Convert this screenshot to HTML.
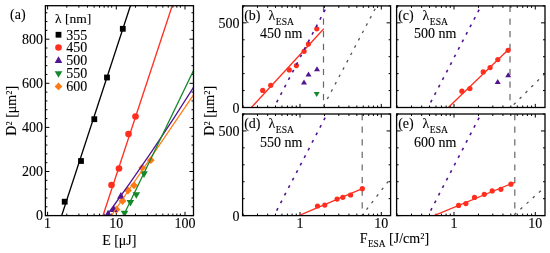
<!DOCTYPE html>
<html><head><meta charset="utf-8"><style>
html,body{margin:0;padding:0;background:#fff;}
svg{display:block;will-change:transform;}
</style></head><body>
<svg width="550" height="253" viewBox="0 0 550 253">
<rect width="550" height="253" fill="#fff"/>
<path d="M47.60 215.6v-3.8M47.60 5.7v3.8M66.78 215.6v-2.0M66.78 5.7v2.0M78.88 215.6v-2.0M78.88 5.7v2.0M87.46 215.6v-2.0M87.46 5.7v2.0M94.12 215.6v-2.0M94.12 5.7v2.0M99.56 215.6v-2.0M99.56 5.7v2.0M104.16 215.6v-2.0M104.16 5.7v2.0M108.14 215.6v-2.0M108.14 5.7v2.0M111.66 215.6v-2.0M111.66 5.7v2.0M116.30 215.6v-3.8M116.30 5.7v3.8M135.48 215.6v-2.0M135.48 5.7v2.0M147.58 215.6v-2.0M147.58 5.7v2.0M156.16 215.6v-2.0M156.16 5.7v2.0M162.82 215.6v-2.0M162.82 5.7v2.0M168.26 215.6v-2.0M168.26 5.7v2.0M172.86 215.6v-2.0M172.86 5.7v2.0M176.84 215.6v-2.0M176.84 5.7v2.0M180.36 215.6v-2.0M180.36 5.7v2.0M185.00 215.6v-3.8M185.00 5.7v3.8M45.4 215.60h4.0M193.5 215.60h-4.0M45.4 206.78h2.0M193.5 206.78h-2.0M45.4 197.96h2.0M193.5 197.96h-2.0M45.4 189.14h2.0M193.5 189.14h-2.0M45.4 180.32h2.0M193.5 180.32h-2.0M45.4 171.50h4.0M193.5 171.50h-4.0M45.4 162.68h2.0M193.5 162.68h-2.0M45.4 153.86h2.0M193.5 153.86h-2.0M45.4 145.04h2.0M193.5 145.04h-2.0M45.4 136.22h2.0M193.5 136.22h-2.0M45.4 127.40h4.0M193.5 127.40h-4.0M45.4 118.58h2.0M193.5 118.58h-2.0M45.4 109.76h2.0M193.5 109.76h-2.0M45.4 100.94h2.0M193.5 100.94h-2.0M45.4 92.12h2.0M193.5 92.12h-2.0M45.4 83.30h4.0M193.5 83.30h-4.0M45.4 74.48h2.0M193.5 74.48h-2.0M45.4 65.66h2.0M193.5 65.66h-2.0M45.4 56.84h2.0M193.5 56.84h-2.0M45.4 48.02h2.0M193.5 48.02h-2.0M45.4 39.20h4.0M193.5 39.20h-4.0M45.4 30.38h2.0M193.5 30.38h-2.0M45.4 21.56h2.0M193.5 21.56h-2.0M45.4 12.74h2.0M193.5 12.74h-2.0" stroke="#000" stroke-width="1" fill="none"/>
<clipPath id="ca"><rect x="45.4" y="5.7" width="148.1" height="209.9"/></clipPath>
<g clip-path="url(#ca)">
<rect x="61.80" y="198.80" width="5.8" height="5.8" fill="#000"/>
<rect x="78.10" y="158.10" width="5.8" height="5.8" fill="#000"/>
<rect x="91.40" y="116.30" width="5.8" height="5.8" fill="#000"/>
<rect x="104.10" y="74.60" width="5.8" height="5.8" fill="#000"/>
<rect x="119.90" y="25.90" width="5.8" height="5.8" fill="#000"/>
<circle cx="111.5" cy="185" r="3.3" fill="#ff2e1e"/>
<circle cx="119" cy="168.5" r="3.3" fill="#ff2e1e"/>
<circle cx="128.5" cy="134" r="3.3" fill="#ff2e1e"/>
<circle cx="135.5" cy="116.5" r="3.3" fill="#ff2e1e"/>
<path d="M116.50 205.60L120.40 209.50L116.50 213.40L112.60 209.50Z" fill="#ff7a14"/>
<path d="M122.50 197.10L126.40 201.00L122.50 204.90L118.60 201.00Z" fill="#ff7a14"/>
<path d="M128.00 186.60L131.90 190.50L128.00 194.40L124.10 190.50Z" fill="#ff7a14"/>
<path d="M134.00 181.40L137.90 185.30L134.00 189.20L130.10 185.30Z" fill="#ff7a14"/>
<path d="M142.30 163.90L146.20 167.80L142.30 171.70L138.40 167.80Z" fill="#ff7a14"/>
<path d="M150.80 156.30L154.70 160.20L150.80 164.10L146.90 160.20Z" fill="#ff7a14"/>
<path d="M124.50 217.36L128.30 210.76L120.70 210.76Z" fill="#15882a"/>
<path d="M130.40 206.56L134.20 199.96L126.60 199.96Z" fill="#15882a"/>
<path d="M136.30 198.86L140.10 192.26L132.50 192.26Z" fill="#15882a"/>
<path d="M144.00 177.96L147.80 171.36L140.20 171.36Z" fill="#15882a"/>
<path d="M108.10 209.84L111.90 216.44L104.30 216.44Z" fill="#52148f"/>
<path d="M113.80 205.34L117.60 211.94L110.00 211.94Z" fill="#52148f"/>
<path d="M120.90 192.04L124.70 198.64L117.10 198.64Z" fill="#52148f"/>
</g>
<g clip-path="url(#ca)" fill="none" stroke-width="1.3">
<line x1="61.7" y1="215.5" x2="130.5" y2="5.5" stroke="#000"/>
<line x1="103" y1="215.5" x2="172.3" y2="5.5" stroke="#ff2e1e"/>
<path d="M106.7 215.5Q153.3 151.6 193.5 87.3" stroke="#52148f"/>
<line x1="111.5" y1="215.5" x2="193.5" y2="94.8" stroke="#ff7a14"/>
<line x1="123.5" y1="215.5" x2="193.5" y2="70.6" stroke="#15882a"/>
</g>
<rect x="45.4" y="5.7" width="148.10" height="209.90" fill="none" stroke="#000" stroke-width="1.3"/>
<rect x="55.60" y="31.85" width="5.8" height="5.8" fill="#000"/>
<circle cx="58.5" cy="47.5" r="3.3" fill="#ff2e1e"/>
<path d="M58.50 56.34L62.30 62.94L54.70 62.94Z" fill="#52148f"/>
<path d="M58.50 77.76L62.30 71.16L54.70 71.16Z" fill="#15882a"/>
<path d="M58.50 82.50L62.40 86.40L58.50 90.30L54.60 86.40Z" fill="#ff7a14"/>
<g font-family="Liberation Serif, serif" stroke="#000" stroke-width="0.1" font-size="14" fill="#000">
<text x="55" y="22.6" font-size="13.5">λ [nm]</text>
<text x="66.3" y="39.60">355</text>
<text x="66.3" y="52.45">450</text>
<text x="66.3" y="65.30">500</text>
<text x="66.3" y="78.15">550</text>
<text x="66.3" y="91.00">600</text>
</g>
<g font-family="Liberation Serif, serif" stroke="#000" stroke-width="0.1" font-size="14" fill="#000" text-anchor="end">
<text x="43.0" y="220.4">0</text>
<text x="43.0" y="176.3">200</text>
<text x="43.0" y="132.2">400</text>
<text x="43.0" y="88.1">600</text>
<text x="43.0" y="44.0">800</text>
</g>
<g font-family="Liberation Serif, serif" stroke="#000" stroke-width="0.1" font-size="14" fill="#000" text-anchor="middle">
<text x="47.6" y="228.2">1</text>
<text x="116.3" y="228.2">10</text>
<text x="185.0" y="228.2">100</text>
<text x="119.3" y="244.6">E [μJ]</text>
</g>
<text font-family="Liberation Serif, serif" stroke="#000" stroke-width="0.1" font-size="14" x="10" y="18.7">(a)</text>
<text font-family="Liberation Serif, serif" stroke="#000" stroke-width="0.1" font-size="14" transform="translate(16.2,110.8) rotate(-90)" text-anchor="middle">D<tspan stroke-width="0">²</tspan> [μm<tspan stroke-width="0">²</tspan>]</text>
<text font-family="Liberation Serif, serif" stroke="#000" stroke-width="0.1" font-size="14" transform="translate(213.5,110.8) rotate(-90)" text-anchor="middle">D<tspan stroke-width="0">²</tspan> [μm<tspan stroke-width="0">²</tspan>]</text>
<path d="M243.17 107.5v-2.0M243.17 5.9v2.0M257.49 107.5v-2.0M257.49 5.9v2.0M267.65 107.5v-2.0M267.65 5.9v2.0M275.53 107.5v-2.0M275.53 5.9v2.0M281.96 107.5v-2.0M281.96 5.9v2.0M287.41 107.5v-2.0M287.41 5.9v2.0M292.12 107.5v-2.0M292.12 5.9v2.0M296.28 107.5v-2.0M296.28 5.9v2.0M300.00 107.5v-3.6M300.00 5.9v3.6M324.47 107.5v-2.0M324.47 5.9v2.0M338.79 107.5v-2.0M338.79 5.9v2.0M348.95 107.5v-2.0M348.95 5.9v2.0M356.83 107.5v-2.0M356.83 5.9v2.0M363.26 107.5v-2.0M363.26 5.9v2.0M368.71 107.5v-2.0M368.71 5.9v2.0M373.42 107.5v-2.0M373.42 5.9v2.0M377.58 107.5v-2.0M377.58 5.9v2.0M381.30 107.5v-3.6M381.30 5.9v3.6M242.6 107.50h4.0M390.6 107.50h-4.0M242.6 90.57h2.0M390.6 90.57h-2.0M242.6 73.63h2.0M390.6 73.63h-2.0M242.6 56.70h2.0M390.6 56.70h-2.0M242.6 39.77h2.0M390.6 39.77h-2.0M242.6 22.83h4.0M390.6 22.83h-4.0M242.6 5.90h2.0M390.6 5.90h-2.0" stroke="#000" stroke-width="1" fill="none"/>
<clipPath id="cb"><rect x="242.6" y="5.9" width="148.00" height="101.60"/></clipPath>
<g font-family="Liberation Serif, serif" stroke="#000" stroke-width="0.1" fill="#000">
<text font-size="14" x="244.2" y="19.5">(b)</text>
<text font-size="14" x="268.4" y="20.3">λ<tspan font-size="9.6" dx="0.6" dy="4.3">ESA</tspan></text>
<text font-size="14" x="260.0" y="38.4">450 nm</text>
</g>
<path d="M397.17 107.5v-2.0M397.17 5.9v2.0M411.49 107.5v-2.0M411.49 5.9v2.0M421.65 107.5v-2.0M421.65 5.9v2.0M429.53 107.5v-2.0M429.53 5.9v2.0M435.96 107.5v-2.0M435.96 5.9v2.0M441.41 107.5v-2.0M441.41 5.9v2.0M446.12 107.5v-2.0M446.12 5.9v2.0M450.28 107.5v-2.0M450.28 5.9v2.0M454.00 107.5v-3.6M454.00 5.9v3.6M478.47 107.5v-2.0M478.47 5.9v2.0M492.79 107.5v-2.0M492.79 5.9v2.0M502.95 107.5v-2.0M502.95 5.9v2.0M510.83 107.5v-2.0M510.83 5.9v2.0M517.26 107.5v-2.0M517.26 5.9v2.0M522.71 107.5v-2.0M522.71 5.9v2.0M527.42 107.5v-2.0M527.42 5.9v2.0M531.58 107.5v-2.0M531.58 5.9v2.0M535.30 107.5v-3.6M535.30 5.9v3.6M396.6 107.50h4.0M545.0 107.50h-4.0M396.6 90.57h2.0M545.0 90.57h-2.0M396.6 73.63h2.0M545.0 73.63h-2.0M396.6 56.70h2.0M545.0 56.70h-2.0M396.6 39.77h2.0M545.0 39.77h-2.0M396.6 22.83h4.0M545.0 22.83h-4.0M396.6 5.90h2.0M545.0 5.90h-2.0" stroke="#000" stroke-width="1" fill="none"/>
<clipPath id="cc"><rect x="396.6" y="5.9" width="148.40" height="101.60"/></clipPath>
<g font-family="Liberation Serif, serif" stroke="#000" stroke-width="0.1" fill="#000">
<text font-size="14" x="398.2" y="19.5">(c)</text>
<text font-size="14" x="422.4" y="20.3">λ<tspan font-size="9.6" dx="0.6" dy="4.3">ESA</tspan></text>
<text font-size="14" x="414.0" y="38.4">500 nm</text>
</g>
<path d="M243.17 215.6v-2.0M243.17 114.0v2.0M257.49 215.6v-2.0M257.49 114.0v2.0M267.65 215.6v-2.0M267.65 114.0v2.0M275.53 215.6v-2.0M275.53 114.0v2.0M281.96 215.6v-2.0M281.96 114.0v2.0M287.41 215.6v-2.0M287.41 114.0v2.0M292.12 215.6v-2.0M292.12 114.0v2.0M296.28 215.6v-2.0M296.28 114.0v2.0M300.00 215.6v-3.6M300.00 114.0v3.6M324.47 215.6v-2.0M324.47 114.0v2.0M338.79 215.6v-2.0M338.79 114.0v2.0M348.95 215.6v-2.0M348.95 114.0v2.0M356.83 215.6v-2.0M356.83 114.0v2.0M363.26 215.6v-2.0M363.26 114.0v2.0M368.71 215.6v-2.0M368.71 114.0v2.0M373.42 215.6v-2.0M373.42 114.0v2.0M377.58 215.6v-2.0M377.58 114.0v2.0M381.30 215.6v-3.6M381.30 114.0v3.6M242.6 215.60h4.0M390.6 215.60h-4.0M242.6 198.67h2.0M390.6 198.67h-2.0M242.6 181.73h2.0M390.6 181.73h-2.0M242.6 164.80h2.0M390.6 164.80h-2.0M242.6 147.87h2.0M390.6 147.87h-2.0M242.6 130.93h4.0M390.6 130.93h-4.0M242.6 114.00h2.0M390.6 114.00h-2.0" stroke="#000" stroke-width="1" fill="none"/>
<clipPath id="cd"><rect x="242.6" y="114.0" width="148.00" height="101.60"/></clipPath>
<g font-family="Liberation Serif, serif" stroke="#000" stroke-width="0.1" fill="#000">
<text font-size="14" x="244.2" y="127.6">(d)</text>
<text font-size="14" x="268.4" y="128.4">λ<tspan font-size="9.6" dx="0.6" dy="4.3">ESA</tspan></text>
<text font-size="14" x="260.0" y="146.5">550 nm</text>
</g>
<path d="M397.17 215.6v-2.0M397.17 114.0v2.0M411.49 215.6v-2.0M411.49 114.0v2.0M421.65 215.6v-2.0M421.65 114.0v2.0M429.53 215.6v-2.0M429.53 114.0v2.0M435.96 215.6v-2.0M435.96 114.0v2.0M441.41 215.6v-2.0M441.41 114.0v2.0M446.12 215.6v-2.0M446.12 114.0v2.0M450.28 215.6v-2.0M450.28 114.0v2.0M454.00 215.6v-3.6M454.00 114.0v3.6M478.47 215.6v-2.0M478.47 114.0v2.0M492.79 215.6v-2.0M492.79 114.0v2.0M502.95 215.6v-2.0M502.95 114.0v2.0M510.83 215.6v-2.0M510.83 114.0v2.0M517.26 215.6v-2.0M517.26 114.0v2.0M522.71 215.6v-2.0M522.71 114.0v2.0M527.42 215.6v-2.0M527.42 114.0v2.0M531.58 215.6v-2.0M531.58 114.0v2.0M535.30 215.6v-3.6M535.30 114.0v3.6M396.6 215.60h4.0M545.0 215.60h-4.0M396.6 198.67h2.0M545.0 198.67h-2.0M396.6 181.73h2.0M545.0 181.73h-2.0M396.6 164.80h2.0M545.0 164.80h-2.0M396.6 147.87h2.0M545.0 147.87h-2.0M396.6 130.93h4.0M545.0 130.93h-4.0M396.6 114.00h2.0M545.0 114.00h-2.0" stroke="#000" stroke-width="1" fill="none"/>
<clipPath id="ce"><rect x="396.6" y="114.0" width="148.40" height="101.60"/></clipPath>
<g font-family="Liberation Serif, serif" stroke="#000" stroke-width="0.1" fill="#000">
<text font-size="14" x="398.2" y="127.6">(e)</text>
<text font-size="14" x="422.4" y="128.4">λ<tspan font-size="9.6" dx="0.6" dy="4.3">ESA</tspan></text>
<text font-size="14" x="414.0" y="146.5">600 nm</text>
</g>
<g clip-path="url(#cb)">
<line x1="323.5" y1="5.9" x2="323.5" y2="108.5" stroke="#666666" stroke-width="1.2" stroke-dasharray="6.2 6.4"/>
<line x1="386.22" y1="-12.10" x2="316.26" y2="119.90" stroke="#555555" stroke-width="1.3" stroke-dasharray="2.6 5.700000000000001" stroke-dashoffset="1.3"/>
<circle cx="262.7" cy="90.4" r="2.6" fill="#ff2e1e"/>
<circle cx="270.7" cy="85.3" r="2.6" fill="#ff2e1e"/>
<circle cx="289.3" cy="69.9" r="2.6" fill="#ff2e1e"/>
<circle cx="296.4" cy="65.6" r="2.6" fill="#ff2e1e"/>
<circle cx="304.1" cy="51.3" r="2.6" fill="#ff2e1e"/>
<circle cx="308.4" cy="44.1" r="2.6" fill="#ff2e1e"/>
<circle cx="316.8" cy="28.8" r="2.6" fill="#ff2e1e"/>
<line x1="251.4" y1="107.5" x2="323.8" y2="28.8" stroke="#ff2e1e" stroke-width="1.3"/>
<path d="M304.00 79.50L307.00 84.50L301.00 84.50Z" fill="#52148f"/>
<path d="M308.50 71.60L311.50 76.60L305.50 76.60Z" fill="#52148f"/>
<path d="M317.00 66.20L320.00 71.20L314.00 71.20Z" fill="#52148f"/>
<path d="M316.70 97.00L319.70 92.00L313.70 92.00Z" fill="#15882a"/>
<line x1="332.37" y1="-4.29" x2="265.50" y2="123.81" stroke="#52148f" stroke-width="1.6" stroke-dasharray="2.8 5.7" stroke-dashoffset="1.4"/>
</g>
<g clip-path="url(#cc)">
<line x1="510" y1="5.9" x2="510" y2="108.5" stroke="#666666" stroke-width="1.2" stroke-dasharray="6.2 6.4"/>
<line x1="626.17" y1="-7.77" x2="497.06" y2="121.34" stroke="#555555" stroke-width="1.3" stroke-dasharray="2.6 5.700000000000001" stroke-dashoffset="1.3"/>
<circle cx="461.9" cy="91.2" r="2.6" fill="#ff2e1e"/>
<circle cx="469.9" cy="88.6" r="2.6" fill="#ff2e1e"/>
<circle cx="483.2" cy="71.9" r="2.6" fill="#ff2e1e"/>
<circle cx="490.1" cy="67.6" r="2.6" fill="#ff2e1e"/>
<circle cx="497.8" cy="59.6" r="2.6" fill="#ff2e1e"/>
<circle cx="508.1" cy="50.3" r="2.6" fill="#ff2e1e"/>
<line x1="448.3" y1="107.5" x2="510" y2="48" stroke="#ff2e1e" stroke-width="1.3"/>
<path d="M497.70 79.00L500.70 84.00L494.70 84.00Z" fill="#52148f"/>
<path d="M508.20 72.30L511.20 77.30L505.20 77.30Z" fill="#52148f"/>
<line x1="486.37" y1="-4.29" x2="419.50" y2="123.81" stroke="#52148f" stroke-width="1.6" stroke-dasharray="2.8 5.7" stroke-dashoffset="1.4"/>
</g>
<g clip-path="url(#cd)">
<line x1="362.2" y1="114.0" x2="362.2" y2="216.6" stroke="#666666" stroke-width="1.2" stroke-dasharray="6.2 6.4"/>
<line x1="448.25" y1="103.40" x2="352.10" y2="228.39" stroke="#555555" stroke-width="1.3" stroke-dasharray="2.6 5.700000000000001" stroke-dashoffset="1.3"/>
<circle cx="317.5" cy="206" r="2.6" fill="#ff2e1e"/>
<circle cx="324.8" cy="205.1" r="2.6" fill="#ff2e1e"/>
<circle cx="337.1" cy="199.1" r="2.6" fill="#ff2e1e"/>
<circle cx="342.8" cy="197.3" r="2.6" fill="#ff2e1e"/>
<circle cx="350.6" cy="195" r="2.6" fill="#ff2e1e"/>
<circle cx="362.3" cy="188.7" r="2.6" fill="#ff2e1e"/>
<line x1="298.8" y1="215.6" x2="362.3" y2="188.7" stroke="#ff2e1e" stroke-width="1.3"/>
<line x1="332.37" y1="103.81" x2="265.50" y2="231.91" stroke="#52148f" stroke-width="1.6" stroke-dasharray="2.8 5.7" stroke-dashoffset="1.4"/>
</g>
<g clip-path="url(#ce)">
<line x1="514.8" y1="114.0" x2="514.8" y2="216.6" stroke="#666666" stroke-width="1.2" stroke-dasharray="6.2 6.4"/>
<line x1="638.58" y1="102.81" x2="502.85" y2="224.96" stroke="#555555" stroke-width="1.3" stroke-dasharray="2.6 5.700000000000001" stroke-dashoffset="1.3"/>
<circle cx="458.6" cy="205.4" r="2.6" fill="#ff2e1e"/>
<circle cx="465.9" cy="203.6" r="2.6" fill="#ff2e1e"/>
<circle cx="474.5" cy="197.4" r="2.6" fill="#ff2e1e"/>
<circle cx="484.3" cy="194.3" r="2.6" fill="#ff2e1e"/>
<circle cx="492.2" cy="190.9" r="2.6" fill="#ff2e1e"/>
<circle cx="500.9" cy="189.3" r="2.6" fill="#ff2e1e"/>
<circle cx="510.9" cy="184.2" r="2.6" fill="#ff2e1e"/>
<line x1="434.1" y1="215.6" x2="514.6" y2="182.3" stroke="#ff2e1e" stroke-width="1.3"/>
<line x1="486.37" y1="103.81" x2="419.50" y2="231.91" stroke="#52148f" stroke-width="1.6" stroke-dasharray="2.8 5.7" stroke-dashoffset="1.4"/>
</g>
<rect x="242.6" y="5.9" width="148.00" height="101.60" fill="none" stroke="#000" stroke-width="1.3"/>
<rect x="396.6" y="5.9" width="148.40" height="101.60" fill="none" stroke="#000" stroke-width="1.3"/>
<rect x="242.6" y="114.0" width="148.00" height="101.60" fill="none" stroke="#000" stroke-width="1.3"/>
<rect x="396.6" y="114.0" width="148.40" height="101.60" fill="none" stroke="#000" stroke-width="1.3"/>
<g font-family="Liberation Serif, serif" stroke="#000" stroke-width="0.1" font-size="14" fill="#000" text-anchor="end">
<text x="239.6" y="112.5">0</text>
<text x="239.6" y="27.8">500</text>
<text x="239.6" y="220.6">0</text>
<text x="239.6" y="135.9">500</text>
</g>
<g font-family="Liberation Serif, serif" stroke="#000" stroke-width="0.1" font-size="14" fill="#000" text-anchor="middle">
<text x="300.0" y="228.2">1</text>
<text x="381.3" y="228.2">10</text>
<text x="454.0" y="228.2">1</text>
<text x="535.3" y="228.2">10</text>
</g>
<text font-family="Liberation Serif, serif" stroke="#000" stroke-width="0.1" font-size="14" x="359.8" y="243.4">F<tspan font-size="9.4" dx="0.3" dy="3.9">ESA</tspan><tspan dy="-3.9"> [J/cm<tspan stroke-width="0">²</tspan>]</tspan></text>
</svg>
</body></html>
